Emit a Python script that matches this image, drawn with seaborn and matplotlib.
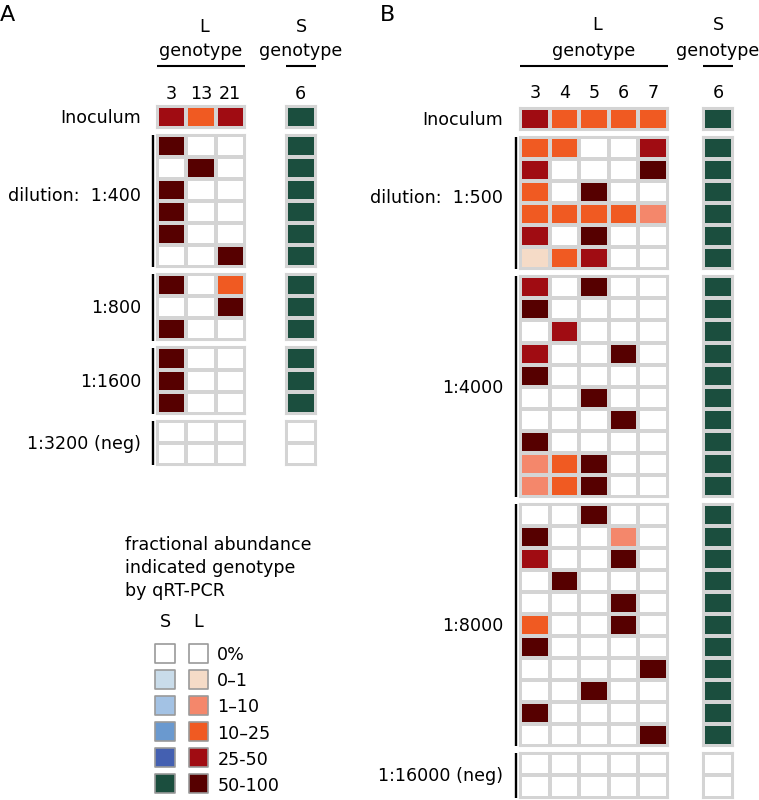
import pandas as pd
import matplotlib.pyplot as plt
import seaborn as sns
from matplotlib.colors import ListedColormap

sns.set_theme(style="white", rc={"text.color": "black", "xtick.color": "black", "ytick.color": "black"})
plt.rcParams['font.family'] = ['DejaVu Sans']

FS = 12.6

# abundance classes: 0 = 0%, 1 = 0-1, 2 = 1-10, 3 = 10-25, 4 = 25-50, 5 = 50-100
level_labels = ['0%', '0–1', '1–10', '10–25', '25-50', '50-100']
l_colors = ['#ffffff', '#f5dbc7', '#f4876b', '#f05a22', '#a00c12', '#560000']
s_colors = ['#ffffff', '#c9dcea', '#a3c2e4', '#6a99cf', '#4460b1', '#1b4e3e']

# Panel A
a_l_genotypes = ['3', '13', '21']
a_s_genotypes = ['6']
a_row_labels = ['Inoculum', 'dilution:  1:400', '1:800', '1:1600', '1:3200 (neg)']
a_inoculum_l = [[4, 3, 4]]
a_d400_l = [[5, 0, 0], [0, 5, 0], [5, 0, 0], [5, 0, 0], [5, 0, 0], [0, 0, 5]]
a_d800_l = [[5, 0, 3], [0, 0, 5], [5, 0, 0]]
a_d1600_l = [[5, 0, 0], [5, 0, 0], [5, 0, 0]]
a_d3200_l = [[0, 0, 0], [0, 0, 0]]
a_inoculum_s = [5]
a_d400_s = [5, 5, 5, 5, 5, 5]
a_d800_s = [5, 5, 5]
a_d1600_s = [5, 5, 5]
a_d3200_s = [0, 0]

# Panel B
b_l_genotypes = ['3', '4', '5', '6', '7']
b_s_genotypes = ['6']
b_row_labels = ['Inoculum', 'dilution:  1:500', '1:4000', '1:8000', '1:16000 (neg)']
b_inoculum_l = [[4, 3, 3, 3, 3]]
b_d500_l = [[3, 3, 0, 0, 4], [4, 0, 0, 0, 5], [3, 0, 5, 0, 0],
            [3, 3, 3, 3, 2], [4, 0, 5, 0, 0], [1, 3, 4, 0, 0]]
b_d4000_l = [[4, 0, 5, 0, 0], [5, 0, 0, 0, 0], [0, 4, 0, 0, 0], [4, 0, 0, 5, 0],
             [5, 0, 0, 0, 0], [0, 0, 5, 0, 0], [0, 0, 0, 5, 0], [5, 0, 0, 0, 0],
             [2, 3, 5, 0, 0], [2, 3, 5, 0, 0]]
b_d8000_l = [[0, 0, 5, 0, 0], [5, 0, 0, 2, 0], [4, 0, 0, 5, 0], [0, 5, 0, 0, 0],
             [0, 0, 0, 5, 0], [3, 0, 0, 5, 0], [5, 0, 0, 0, 0], [0, 0, 0, 0, 5],
             [0, 0, 5, 0, 0], [5, 0, 0, 0, 0], [0, 0, 0, 0, 5]]
b_d16000_l = [[0, 0, 0, 0, 0], [0, 0, 0, 0, 0]]
b_inoculum_s = [5]
b_d500_s = [5, 5, 5, 5, 5, 5]
b_d4000_s = [5, 5, 5, 5, 5, 5, 5, 5, 5, 5]
b_d8000_s = [5, 5, 5, 5, 5, 5, 5, 5, 5, 5, 5]
b_d16000_s = [0, 0]

# layout (pixels)
W, H = 759, 800
ROW_H = 22.05
GAP = 7
GRID = '#d4d4d4'

fig = plt.figure(figsize=(W / 100, H / 100), dpi=100)
deco = fig.add_axes([0, 0, 1, 1])
deco.set_xlim(0, W)
deco.set_ylim(H, 0)
deco.axis('off')


def px_axes(x0, y0, x1, y1):
    return fig.add_axes([x0 / W, 1 - y1 / H, (x1 - x0) / W, (y1 - y0) / H])


def draw_block(values, x0, x1, y0, colors, col_labels=None, pad=3):
    y1 = y0 + len(values) * ROW_H
    ax = px_axes(x0, y0, x1, y1)
    sns.heatmap(pd.DataFrame(values), ax=ax, cmap=ListedColormap(colors),
                vmin=-0.5, vmax=5.5, cbar=False, linewidths=1.5, linecolor=GRID,
                xticklabels=col_labels if col_labels else False, yticklabels=False)
    for sp in ax.spines.values():
        sp.set_visible(True)
        sp.set_color(GRID)
        sp.set_linewidth(1.5)
    ax.set_xlabel('')
    ax.set_ylabel('')
    if col_labels:
        ax.xaxis.tick_top()
        ax.tick_params(axis='x', length=0, pad=pad, labelsize=FS, labelrotation=0)
    return y1


def draw_panel(l_blocks, s_blocks, row_labels, l_genos, s_genos, lx, sx, top,
               label_x, bracket_x, pad):
    y = top
    for i, (lv, sv, lab) in enumerate(zip(l_blocks, s_blocks, row_labels)):
        y1 = draw_block(lv, lx[0], lx[1], y, l_colors, l_genos if i == 0 else None, pad)
        draw_block([[v] for v in sv], sx[0], sx[1], y, s_colors, s_genos if i == 0 else None, pad)
        off = 0 if lab.startswith('dilution') else 6
        deco.text(label_x, (y + y1) / 2 + off, lab, ha='right', va='baseline', fontsize=FS)
        if i > 0:
            deco.plot([bracket_x, bracket_x], [y, y1], color='black', lw=1.7,
                      solid_capstyle='butt')
        y = y1 + GAP


def draw_header(lx, sx, letter_base):
    for (x0, x1), name, shift in ((lx, 'L', 3.5), (sx, 'S', 0.5)):
        xc = (x0 + x1) / 2
        deco.text(xc + shift, letter_base, name, ha='center', va='baseline', fontsize=FS)
        deco.text(xc, 56, 'genotype', ha='center', va='baseline', fontsize=FS)
        deco.plot([x0, x1], [65.5, 65.5], color='black', lw=1.5, solid_capstyle='butt')


# Panel A
a_lx, a_sx = (157, 245), (285.5, 315.5)
draw_header(a_lx, a_sx, 32.5)
draw_panel([a_inoculum_l, a_d400_l, a_d800_l, a_d1600_l, a_d3200_l],
           [a_inoculum_s, a_d400_s, a_d800_s, a_d1600_s, a_d3200_s],
           a_row_labels, a_l_genotypes, a_s_genotypes, a_lx, a_sx, 106,
           141, 152.5, 2.2)
deco.text(0, 21, 'A', ha='left', va='baseline', fontsize=16)

# Panel B
b_lx, b_sx = (520, 668), (703, 733)
draw_header(b_lx, b_sx, 30.5)
draw_panel([b_inoculum_l, b_d500_l, b_d4000_l, b_d8000_l, b_d16000_l],
           [b_inoculum_s, b_d500_s, b_d4000_s, b_d8000_s, b_d16000_s],
           b_row_labels, b_l_genotypes, b_s_genotypes, b_lx, b_sx, 108,
           503, 515.5, 4.3)
deco.text(380, 21, 'B', ha='left', va='baseline', fontsize=16)

# Legend
for yb, line in zip([550, 573, 596], ['fractional abundance', 'indicated genotype', 'by qRT-PCR']):
    deco.text(125, yb, line, ha='left', va='baseline', fontsize=FS)

leg = px_axes(148.25, 640, 215.25, 797)
s_df = pd.DataFrame({'genotype': 'S', 'level': level_labels})
l_df = pd.DataFrame({'genotype': 'L', 'level': level_labels})
for df, colors in ((s_df, s_colors), (l_df, l_colors)):
    sns.scatterplot(data=df, x='genotype', y='level', hue='level', hue_order=level_labels,
                    palette=colors, marker='s', s=190, edgecolor='#9a9a9a',
                    linewidth=1.2, legend=False, ax=leg)
leg.set_xlim(-0.5, 1.5)
leg.set_ylim(5.5, -0.5)
leg.set_xlabel('')
leg.set_ylabel('')
leg.xaxis.tick_top()
leg.yaxis.tick_right()
leg.tick_params(axis='x', length=0, pad=6.5, labelsize=FS)
leg.tick_params(axis='y', length=0, pad=1.5, labelsize=FS)
for sp in leg.spines.values():
    sp.set_visible(False)
leg.patch.set_visible(False)

fig.savefig('out.png', dpi=100)
